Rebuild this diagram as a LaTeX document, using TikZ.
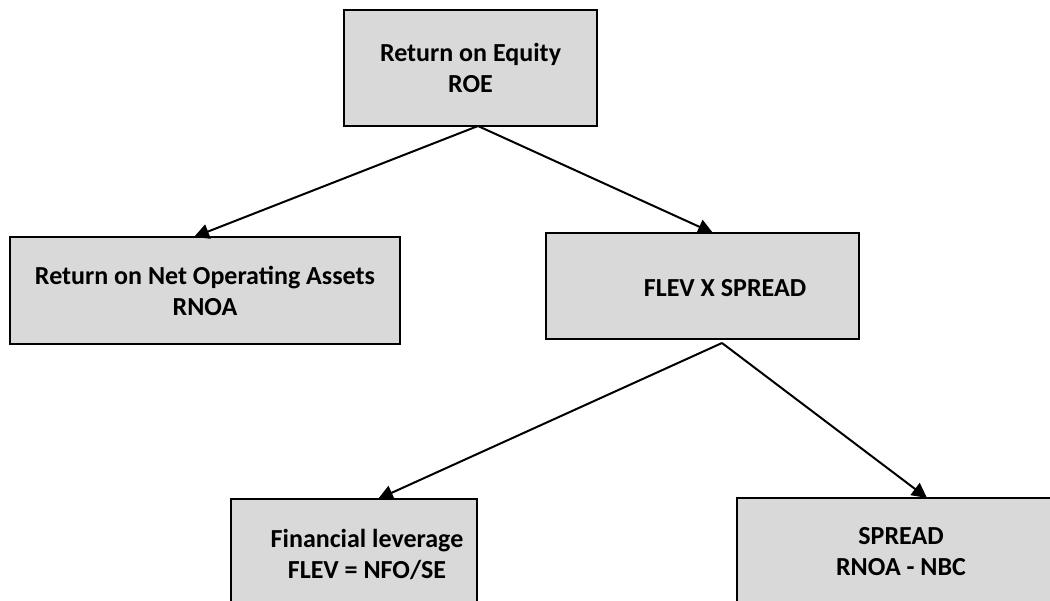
\documentclass[tikz,border=0pt]{standalone}
\usepackage{fontspec}
\setmainfont{Carlito}
\usetikzlibrary{arrows.meta}
\definecolor{boxgray}{HTML}{D9D9D9}
\begin{document}
\begin{tikzpicture}[x=1pt,y=-1pt,
  box/.style={draw=black, line width=2pt, fill=boxgray, inner sep=0pt, outer sep=0pt,
    font=\fontsize{26}{31}\selectfont\bfseries, align=center},
  txt/.style={inner sep=0pt, font=\fontsize{26}{31}\selectfont\bfseries, align=center},
  conn/.style={line width=2pt, -{Triangle[length=15pt,width=15pt]}}]
\clip (0,0) rectangle (1050,600);
\fill[white] (0,0) rectangle (1050,600);
% boxes
\node[box, minimum width=253pt, minimum height=116pt] (roe) at (470.5,68) {Return on Equity\\ROE};
\node[box, minimum width=390pt, minimum height=107pt] (rnoa) at (205,290.5) {Return on Net Operating Assets\\RNOA};
\node[box, minimum width=313pt, minimum height=106pt] (flev) at (702.5,286) {};
\node[txt, anchor=base] (flevtxt) at (725,296) {FLEV X SPREAD};
\node[box, minimum width=246pt, minimum height=151pt] (fin) at (354,574.5) {};
\node[txt] (fintxt) at (367,554) {Financial leverage\\FLEV = NFO/SE};
\node[box, minimum width=363pt, minimum height=151pt] (spread) at (918.5,573.5) {};
\node[txt] (spreadtxt) at (901,552) {SPREAD\\RNOA - NBC};
% connectors
\coordinate (apex1) at ([xshift=7.5pt]roe.south);
\coordinate (apex2) at ([xshift=19.5pt,yshift=-4pt]flev.south);
\draw[conn] (apex1) -- ([xshift=-11pt]rnoa.north);
\draw[conn] (apex1) -- ([xshift=10.5pt]flev.north);
\draw[conn] (apex2) -- ([xshift=24pt]fin.north);
\draw[conn] (apex2) -- ([xshift=8.5pt]spread.north);
\end{tikzpicture}
\end{document}
